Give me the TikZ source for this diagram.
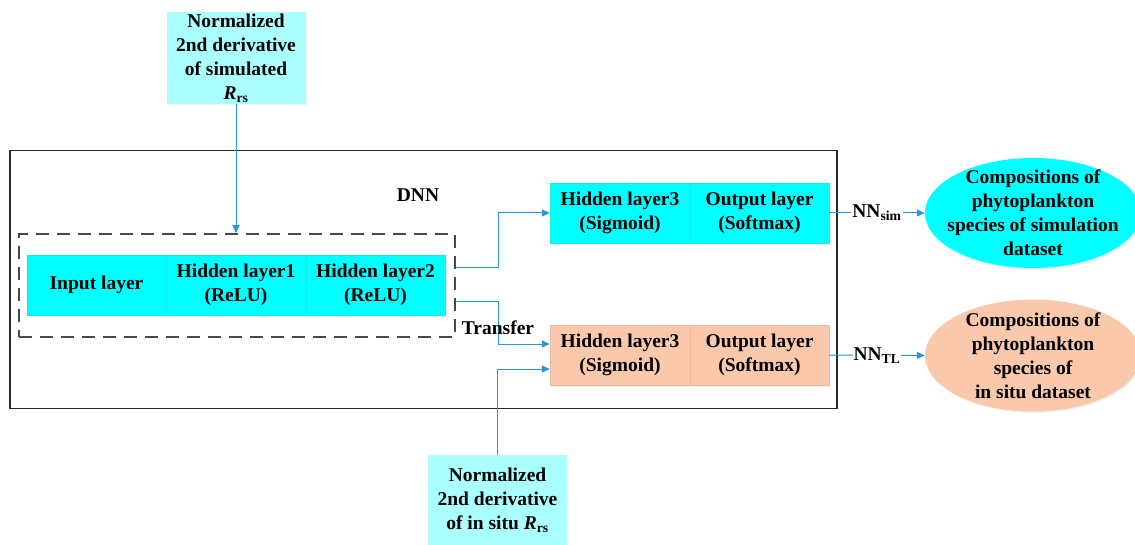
\documentclass[tikz,border=0pt]{standalone}
\usepackage{fontspec}
\setmainfont{Liberation Serif}
\usetikzlibrary{shapes.geometric,arrows.meta,shadows}
\definecolor{cyanbox}{RGB}{0,255,255}
\definecolor{lightcyan}{RGB}{170,255,255}
\definecolor{peach}{RGB}{250,200,170}
\definecolor{arrowblue}{RGB}{40,150,215}
\definecolor{framegray}{RGB}{40,40,40}
\tikzset{
  x=1pt, y=-1pt,
  every node/.style={font=\fontsize{19.5}{24}\selectfont\bfseries, align=center, inner sep=0pt},
  shd/.style={drop shadow={shadow xshift=1.2pt, shadow yshift=-1.5pt, opacity=0.12}},
  cell/.style={shd, minimum height=60pt, draw=#1!85!gray, line width=0.3pt, fill=#1},
  inbox/.style={shd, fill=lightcyan, minimum width=139pt},
  outell/.style={ellipse, fill=#1, minimum width=216pt, shd},
  arr/.style={draw=arrowblue, line width=1pt, -{Triangle[length=8pt, width=7pt]}},
}
\newcommand{\Rrs}{\textit{R}\textsubscript{rs}}
\begin{document}
\begin{tikzpicture}
\useasboundingbox (0,0) rectangle (1135,545);
% outer DNN box
\node[draw=framegray, line width=1.3pt, minimum width=827pt, minimum height=258pt] (dnn) at (423.5,279.5) {};
\node (dnnlabel) at (418,195) {DNN};
% dashed box
\node[draw=framegray!85, line width=1.5pt, dash pattern=on 13pt off 8pt, minimum width=436pt, minimum height=103pt] (dash) at (237,285.5) {};
% input bar
\node[cell=cyanbox, minimum width=139pt] (inl) at (96.5,285) {Input layer};
\node[cell=cyanbox, minimum width=140pt] (h1) at (236,285) {Hidden layer1\\(ReLU)};
\node[cell=cyanbox, minimum width=139pt] (h2) at (375.5,285) {Hidden layer2\\(ReLU)};
% upper branch
\node[cell=cyanbox, minimum width=140pt] (h3a) at (620,213) {Hidden layer3\\(Sigmoid)};
\node[cell=cyanbox, minimum width=139pt] (outa) at (759.5,213) {Output layer\\(Softmax)};
% lower branch
\node[cell=peach, minimum width=140pt] (h3b) at (620,355) {Hidden layer3\\(Sigmoid)};
\node[cell=peach, minimum width=139pt] (outb) at (759.5,355) {Output layer\\(Softmax)};
% input boxes
\node[inbox, minimum height=92pt] (in1) at (236,58) {Normalized\\2nd derivative\\of simulated\\\Rrs};
\node[inbox, minimum height=90pt] (in2) at (497.5,500) {Normalized\\2nd derivative\\of in situ \Rrs};
% ellipses
\node[outell=cyanbox, minimum height=110pt] (ela) at (1033,213) {};
\node (elatext) at (1033,213) {Compositions of\\phytoplankton\\species of simulation\\dataset};
\node[outell=peach, minimum height=112pt] (elb) at (1033,355.5) {};
\node (elbtext) at (1033,355.5) {Compositions of\\phytoplankton\\species of\\in situ dataset};
% connectors
\draw[arr] (in1.south) -- (in1.south |- dash.north);
\coordinate (ta) at ([yshift=17.5pt]dash.east);
\coordinate (tb) at ([yshift=-16.5pt]dash.east);
\draw[arr] (ta) -| (498,213) -- (h3a.west);
\draw[arr] (tb) -| (498,344) -- ([yshift=11pt]h3b.west);
\node (transfer) at (498,328) {Transfer};
\draw[arr] (in2.north) |- ([yshift=-14pt]h3b.west);
\draw[arr] (outa.east) -- (ela.west) node[midway, fill=white, inner xsep=1pt] (nnsim) {NN\textsubscript{sim}};
\draw[arr] (outb.east) -- (elb.west) node[midway, fill=white, inner xsep=1pt] (nntl) {NN\textsubscript{TL}};
\end{tikzpicture}
\end{document}
